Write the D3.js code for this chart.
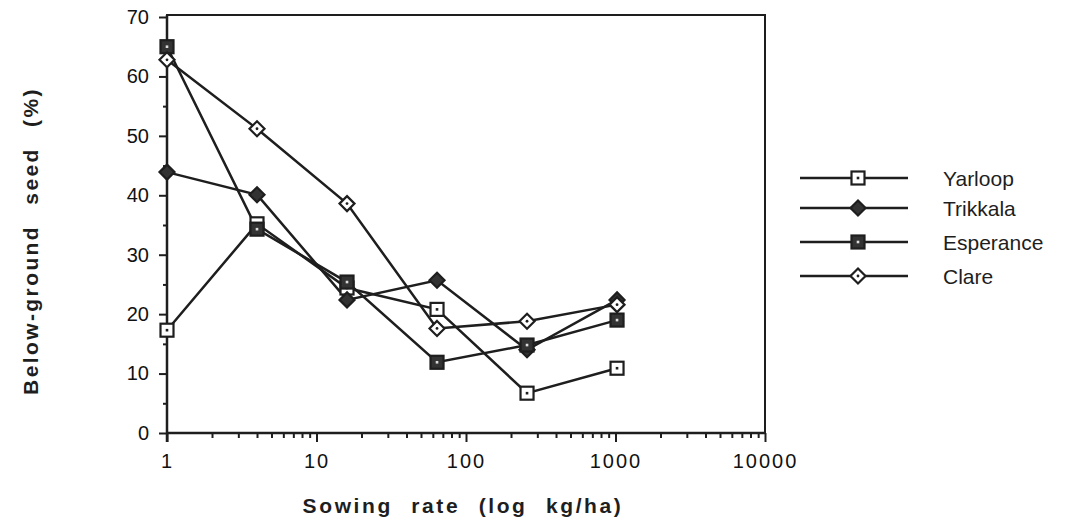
<!DOCTYPE html>
<html>
<head>
<meta charset="utf-8">
<style>
  body { margin: 0; background: #fff; font-family: 'Liberation Sans', Arial, sans-serif; }
  svg { display: block; }
  .tick text { font-size: 20px; fill: #111; }
  .domain { display: none; }
</style>
</head>
<body>
<svg width="1075" height="524"></svg>
<script src="https://d3js.org/d3.v7.min.js"></script>
<script>
// sowing rates (kg/ha)
let rates = [1, 4, 16, 64, 256, 1024]

let yarloop = [17.3, 35.2, 24.4, 20.8, 6.7, 10.9]
let trikkala = [43.9, 40.1, 22.4, 25.7, 14.0, 22.4]
let esperance = [65.0, 34.3, 25.4, 11.9, 14.8, 19.0]
let clare = [62.8, 51.2, 38.6, 17.6, 18.8, 21.6]

let seriesNames = ["Yarloop", "Trikkala", "Esperance", "Clare"]
let seriesValues = [yarloop, trikkala, esperance, clare]
let seriesMarks = ["openSquare", "fillDiamond", "fillSquare", "openDiamond"]

let yTicks = [0, 10, 20, 30, 40, 50, 60, 70]
let xTicks = [1, 10, 100, 1000, 10000]

let ink = "#1e1e1e"
let margin = { top: 16, right: 310, bottom: 91, left: 167 }
let width = 1075, height = 524

let svg = d3.select("svg")

let x = d3.scaleLog()
    .domain([1, 10000])
    .range([margin.left, width - margin.right])

let y = d3.scaleLinear()
    .domain([0, 70])
    .range([height - margin.bottom, margin.top + 1])

// frame (top + right)
svg.append("rect")
    .attr("x", x(1)).attr("y", y(70) - 2)
    .attr("width", x(10000) - x(1)).attr("height", y(0) - y(70) + 2)
    .style("fill", "none").style("stroke", ink).style("stroke-width", 2)

// minor ticks
let minorX = []
for (let d = 1; d < 10000; d *= 10) {
    for (let k = 2; k < 10; k++) minorX.push(d * k)
}
svg.append("g")
    .attr("class", "x minor")
    .attr("transform", `translate(0,${y(0)})`)
    .call(d3.axisBottom(x).tickValues(minorX).tickSize(5).tickFormat(""))
    .selectAll("line").style("stroke", ink).style("stroke-width", 2)

svg.append("g")
    .attr("class", "y minor")
    .attr("transform", `translate(${x(1)},0)`)
    .call(d3.axisLeft(y).tickValues(d3.range(5, 70, 10)).tickSize(4).tickFormat(""))
    .selectAll("line").style("stroke", ink).style("stroke-width", 2)

// major ticks
let xAxis = svg.append("g")
    .attr("class", "x axis")
    .attr("transform", `translate(0,${y(0)})`)
    .call(d3.axisBottom(x).tickValues(xTicks).tickSize(9).tickPadding(12).tickFormat(d3.format("d")))
xAxis.selectAll("line").style("stroke", ink).style("stroke-width", 2)
xAxis.selectAll("text").style("letter-spacing", "2px")

let yAxis = svg.append("g")
    .attr("class", "y axis")
    .attr("transform", `translate(${x(1)},0)`)
    .call(d3.axisLeft(y).tickValues(yTicks).tickSize(8).tickPadding(10))
yAxis.selectAll("line").style("stroke", ink).style("stroke-width", 2)

// axis lines
svg.append("line")
    .attr("x1", x(1)).attr("x2", x(10000)).attr("y1", y(0)).attr("y2", y(0))
    .style("stroke", ink).style("stroke-width", 2.5)
svg.append("line")
    .attr("x1", x(1)).attr("x2", x(1)).attr("y1", y(0) + 9).attr("y2", y(70) - 2)
    .style("stroke", ink).style("stroke-width", 2.5)

// axis titles
svg.append("text")
    .attr("x", 463).attr("y", 513)
    .attr("text-anchor", "middle")
    .style("font-weight", "bold").style("font-size", "21px")
    .style("word-spacing", "10px").style("letter-spacing", "2.6px")
    .style("fill", ink)
    .text("Sowing rate (log kg/ha)")

svg.append("text")
    .attr("transform", `translate(38,${241}) rotate(-90)`)
    .attr("text-anchor", "middle")
    .style("font-weight", "bold").style("font-size", "21px")
    .style("word-spacing", "12px").style("letter-spacing", "2.4px")
    .style("fill", ink)
    .text("Below-ground seed (%)")

function drawMark(g, kind, cx, cy) {
    if (kind == "openSquare" || kind == "fillSquare") {
        g.append("rect")
            .attr("x", cx - 6.5).attr("y", cy - 6.5).attr("width", 13).attr("height", 13)
            .style("fill", kind == "fillSquare" ? "#333" : "#fff")
            .style("stroke", ink).style("stroke-width", 2.2)
        g.append("rect")
            .attr("x", cx - 1.3).attr("y", cy - 1.3).attr("width", 2.6).attr("height", 2.6)
            .style("fill", kind == "fillSquare" ? "#ddd" : ink)
    } else {
        let r = 7.5
        g.append("path")
            .attr("d", `M${cx},${cy - r}L${cx + r},${cy}L${cx},${cy + r}L${cx - r},${cy}Z`)
            .style("fill", kind == "fillDiamond" ? "#333" : "#fff")
            .style("stroke", ink).style("stroke-width", 2.2)
        if (kind == "openDiamond") {
            g.append("circle").attr("cx", cx).attr("cy", cy).attr("r", 1.4).style("fill", ink)
        }
    }
}

let line = d3.line()
    .x((d, i) => x(rates[i]))
    .y(d => y(d))

let plot = svg.append("g")
plot.selectAll(".series")
    .data(seriesValues)
    .join("path")
    .attr("class", "series")
    .attr("d", d => line(d))
    .style("fill", "none")
    .style("stroke", ink)
    .style("stroke-width", 2.5)

seriesValues.forEach(function (vals, s) {
    let g = plot.append("g")
    vals.forEach(function (v, i) {
        drawMark(g, seriesMarks[s], x(rates[i]), y(v))
    })
})

// legend
let legendY = [178, 208, 242, 276]
let legend = svg.append("g")
seriesNames.forEach(function (name, i) {
    legend.append("line")
        .attr("x1", 800).attr("x2", 908).attr("y1", legendY[i]).attr("y2", legendY[i])
        .style("stroke", ink).style("stroke-width", 2.5)
    drawMark(legend, seriesMarks[i], 858, legendY[i])
    legend.append("text")
        .attr("x", 943).attr("y", legendY[i] + 8)
        .style("font-size", "21px").style("fill", ink)
        .text(name)
})
</script>
</body>
</html>
